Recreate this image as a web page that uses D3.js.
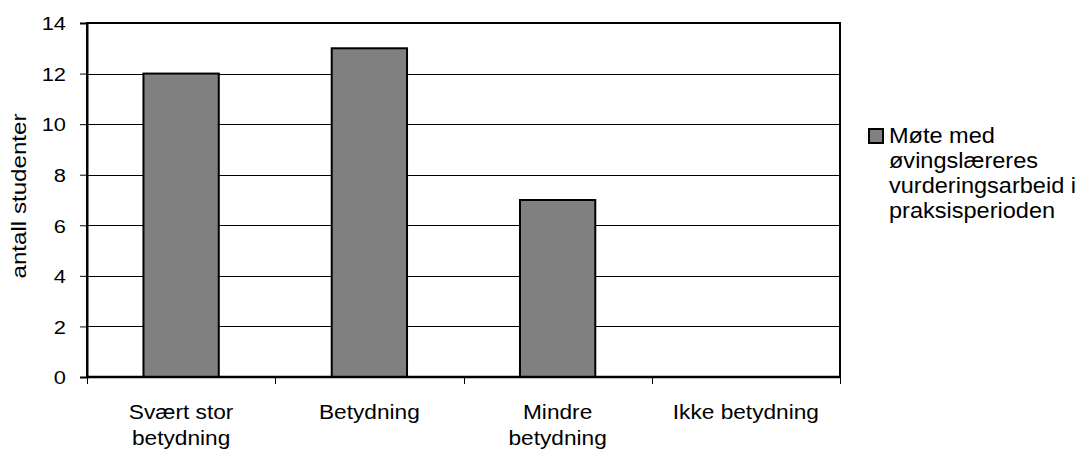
<!DOCTYPE html>
<html>
<head>
<meta charset="utf-8">
<script src="https://cdn.jsdelivr.net/npm/d3@7"></script>
<style>
  html, body { margin: 0; padding: 0; background: #fff; }
  svg { display: block; }
  text { font-family: Arial, "Liberation Sans", sans-serif; fill: #000; }
</style>
</head>
<body>
<svg id="chart" width="1082" height="451"></svg>
<script>
// Survey answers: how much the meeting with the practice teachers' assessment work mattered
const categories = ["Svært stor betydning", "Betydning", "Mindre betydning", "Ikke betydning"];
const values = [12, 13, 7, 0];
const seriesName = "Møte med øvingslæreres vurderingsarbeid i praksisperioden";
const legendLines = ["Møte med", "øvingslæreres", "vurderingsarbeid i", "praksisperioden"];
const yTicks = [0, 2, 4, 6, 8, 10, 12, 14];
const yTitle = "antall studenter";

const svg = d3.select("#chart");
const plot = { left: 87, right: 840, top: 23, bottom: 377 };

const x = d3.scaleBand()
  .domain(categories)
  .range([plot.left, plot.right])
  .paddingInner(0.6)
  .paddingOuter(0.3);

const y = d3.scaleLinear()
  .domain([0, 14])
  .range([plot.bottom, plot.top]);

// Plot background
svg.append("rect")
  .attr("x", plot.left).attr("y", plot.top)
  .attr("width", plot.right - plot.left).attr("height", plot.bottom - plot.top)
  .attr("fill", "#fff");

// Horizontal gridlines
svg.append("g")
  .selectAll("line")
  .data(yTicks.filter(d => d > 0 && d < 14))
  .join("line")
  .attr("x1", plot.left).attr("x2", plot.right)
  .attr("y1", d => Math.round(y(d)) + 0.5).attr("y2", d => Math.round(y(d)) + 0.5)
  .attr("stroke", "#000").attr("stroke-width", 1);

// Bars
svg.append("g")
  .selectAll("rect")
  .data(categories.map((c, i) => ({ c, v: values[i] })).filter(d => d.v > 0))
  .join("rect")
  .attr("x", d => x(d.c))
  .attr("y", d => y(d.v))
  .attr("width", x.bandwidth())
  .attr("height", d => y(0) - y(d.v))
  .attr("fill", "#808080")
  .attr("stroke", "#000")
  .attr("stroke-width", 2);

// Plot frame
svg.append("rect")
  .attr("x", plot.left).attr("y", plot.top)
  .attr("width", plot.right - plot.left).attr("height", plot.bottom - plot.top)
  .attr("fill", "none").attr("stroke", "#000").attr("stroke-width", 2);

// Y axis
const tickStretch = 1.15;
const yAxis = d3.axisLeft(y).tickValues(yTicks).tickSize(7).tickPadding(14);
const yg = svg.append("g").attr("transform", `translate(${plot.left},0)`).call(yAxis);
yg.select(".domain").attr("stroke", "#000").attr("stroke-width", 2);
yg.selectAll(".tick line").attr("stroke", "#000").attr("stroke-width", 1);
yg.selectAll(".tick text")
  .attr("font-size", 19)
  .attr("font-family", "Arial, 'Liberation Sans', sans-serif")
  .attr("fill", "#000")
  .attr("dy", "0.36em")
  .attr("transform", function() {
    const tx = +d3.select(this).attr("x");
    return `translate(${tx},0) scale(${tickStretch},1) translate(${-tx},0)`;
  });

// X axis: ticks at category boundaries
const bounds = d3.range(categories.length + 1).map(i => plot.left + i * x.step());
svg.append("g")
  .selectAll("line")
  .data(bounds)
  .join("line")
  .attr("x1", d => Math.round(d) + 0.5).attr("x2", d => Math.round(d) + 0.5)
  .attr("y1", plot.bottom).attr("y2", plot.bottom + 7)
  .attr("stroke", "#000").attr("stroke-width", 1);
svg.append("line")
  .attr("x1", plot.left).attr("x2", plot.right)
  .attr("y1", plot.bottom).attr("y2", plot.bottom)
  .attr("stroke", "#000").attr("stroke-width", 2.5);

// Category labels, wrapped onto two lines where needed
const textStretch = 1.08;
function wrapLabel(label) {
  if (label.length <= 14) return [label];
  const words = label.split(" ");
  const lines = [];
  let cur = "";
  words.forEach(w => {
    const next = cur ? cur + " " + w : w;
    if (next.length > 10 && cur) { lines.push(cur); cur = w; } else { cur = next; }
  });
  lines.push(cur);
  return lines;
}
const catG = svg.append("g");
categories.forEach(c => {
  const cx = x(c) + x.bandwidth() / 2;
  const g = catG.append("g").attr("transform", `translate(${cx},419) scale(${textStretch},1)`);
  wrapLabel(c).forEach((line, i) => {
    g.append("text")
      .attr("x", 0).attr("y", i * 26)
      .attr("text-anchor", "middle")
      .attr("font-size", 21)
      .text(line);
  });
});

// Y title
svg.append("text")
  .attr("transform", `translate(26,196) rotate(-90) scale(1.15,1)`)
  .attr("text-anchor", "middle")
  .attr("font-size", 21)
  .text(yTitle);

// Legend
const lg = svg.append("g").attr("aria-label", seriesName);
lg.append("rect")
  .attr("x", 869).attr("y", 129)
  .attr("width", 14).attr("height", 14)
  .attr("fill", "#808080").attr("stroke", "#000").attr("stroke-width", 2);
legendLines.forEach((line, i) => {
  lg.append("text")
    .attr("transform", `translate(889,${143 + i * 25}) scale(1.07,1)`)
    .attr("font-size", 22)
    .text(line);
});
</script>
</body>
</html>
